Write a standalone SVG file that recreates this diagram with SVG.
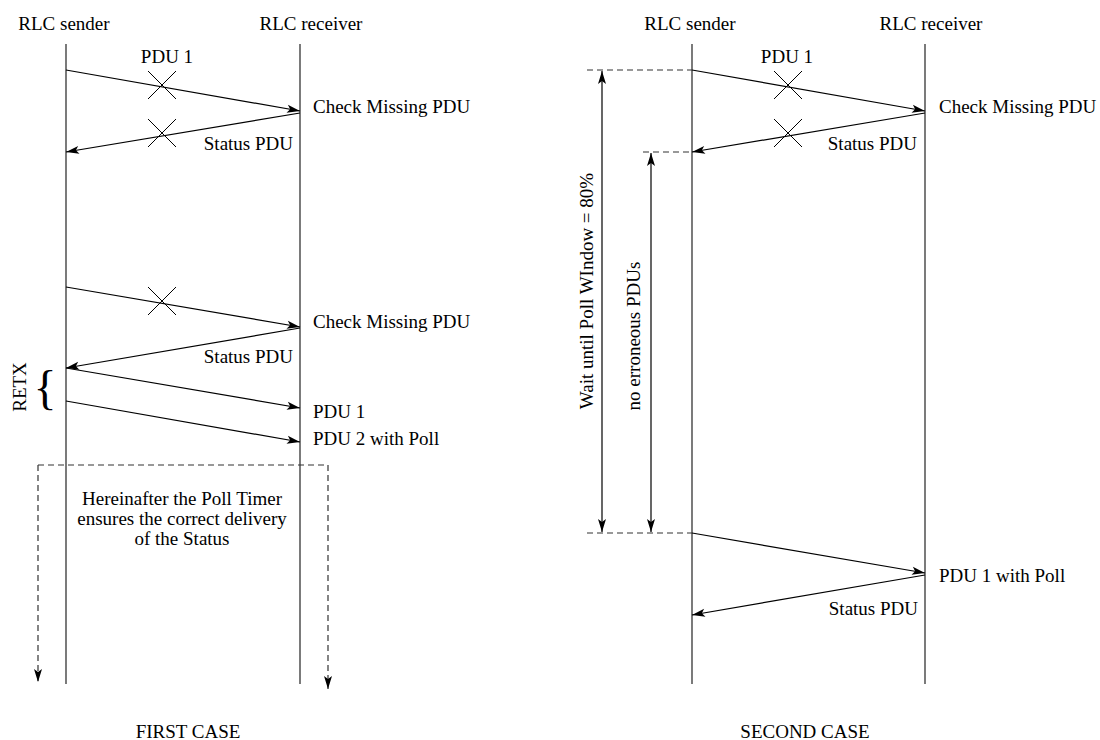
<svg xmlns="http://www.w3.org/2000/svg" width="1100" height="740" viewBox="0 0 1100 740">
  <defs>
    <marker id="ah" markerUnits="userSpaceOnUse" markerWidth="16" markerHeight="10" refX="14" refY="5" orient="auto-start-reverse" viewBox="0 0 16 10">
      <path d="M14,5 L1,1 L4,5 L1,9 Z" fill="#000"/>
    </marker>
    <style>
      text { font-family: "Liberation Serif", "Times New Roman", serif; font-size: 19px; fill: #000; }
      .mid { text-anchor: middle; }
      .end { text-anchor: end; }
      .life { stroke: #333; stroke-width: 1.3; fill: none; }
      .msg { stroke: #000; stroke-width: 1.2; fill: none; marker-end: url(#ah); }
      .both { stroke: #000; stroke-width: 1.2; fill: none; marker-start: url(#ah); marker-end: url(#ah); }
      .dash { stroke: #333; stroke-width: 1.2; fill: none; stroke-dasharray: 6 4; }
      .dasharr { stroke: #333; stroke-width: 1.2; fill: none; stroke-dasharray: 6 4; marker-end: url(#ah); }
      .cross { stroke: #000; stroke-width: 1; fill: none; }
    </style>
  </defs>
  <rect width="1100" height="740" fill="#fff"/>

  <!-- first case: participants -->
  <g id="sender1">
    <text class="mid" x="64" y="30">RLC sender</text>
    <line class="life" x1="66" y1="44" x2="66" y2="684"/>
  </g>
  <g id="receiver1">
    <text class="mid" x="311" y="30">RLC receiver</text>
    <line class="life" x1="300" y1="44" x2="300" y2="684"/>
  </g>

  <!-- second case: participants -->
  <g id="sender2">
    <text class="mid" x="690" y="30">RLC sender</text>
    <line class="life" x1="692" y1="44" x2="692" y2="684"/>
  </g>
  <g id="receiver2">
    <text class="mid" x="931" y="30">RLC receiver</text>
    <line class="life" x1="925" y1="44" x2="925" y2="684"/>
  </g>

  <g id="connectors">
    <!-- first case messages -->
    <line class="msg" x1="66" y1="70" x2="300" y2="111"/>
    <line class="msg" x1="300" y1="113" x2="66" y2="152"/>
    <line class="msg" x1="66" y1="287" x2="300" y2="327"/>
    <line class="msg" x1="300" y1="328" x2="66" y2="368"/>
    <line class="msg" x1="66" y1="368" x2="300" y2="408"/>
    <line class="msg" x1="66" y1="401" x2="300" y2="442"/>
    <!-- poll timer region -->
    <polyline class="dash" points="38,465 328,465"/>
    <line class="dasharr" x1="38" y1="465" x2="38" y2="682"/>
    <line class="dasharr" x1="328" y1="465" x2="328" y2="689"/>

    <!-- second case messages -->
    <line class="msg" x1="692" y1="70" x2="925" y2="111"/>
    <line class="msg" x1="925" y1="113" x2="692" y2="152"/>
    <line class="msg" x1="692" y1="533" x2="925" y2="573"/>
    <line class="msg" x1="925" y1="575" x2="692" y2="615"/>
    <!-- guide lines and spans -->
    <line class="dash" x1="587" y1="70" x2="692" y2="70"/>
    <line class="dash" x1="643" y1="152" x2="692" y2="152"/>
    <line class="dash" x1="587" y1="533" x2="692" y2="533"/>
    <line class="both" x1="602" y1="71" x2="602" y2="532"/>
    <line class="both" x1="651" y1="153" x2="651" y2="532"/>
  </g>

  <!-- lost PDUs -->
  <g id="losses">
    <path class="cross" d="M148,71 L176,99 M148,99 L176,71"/>
    <path class="cross" d="M148,119 L176,147 M148,147 L176,119"/>
    <path class="cross" d="M148,287 L176,315 M148,315 L176,287"/>
    <path class="cross" d="M774,71 L802,99 M774,99 L802,71"/>
    <path class="cross" d="M774,119 L802,147 M774,147 L802,119"/>
  </g>

  <!-- first case labels -->
  <g id="labels1">
    <text class="mid" x="167" y="63">PDU 1</text>
    <text x="313" y="113">Check Missing PDU</text>
    <text class="end" x="293" y="150">Status PDU</text>
    <text x="313" y="328">Check Missing PDU</text>
    <text class="end" x="293" y="363">Status PDU</text>
    <text x="313" y="418">PDU 1</text>
    <text x="313" y="445">PDU 2 with Poll</text>
    <text class="mid" x="182" y="505">Hereinafter the Poll Timer</text>
    <text class="mid" x="182" y="525">ensures the correct delivery</text>
    <text class="mid" x="182" y="545">of the Status</text>
    <text class="mid" x="188" y="738">FIRST CASE</text>
  </g>
  <g id="retx">
    <text class="mid" x="45" y="404" style="font-size:48px">{</text>
    <text class="mid" transform="translate(26,387) rotate(-90)">RETX</text>
  </g>

  <!-- second case labels -->
  <g id="labels2">
    <text class="mid" x="787" y="63">PDU 1</text>
    <text x="939" y="113">Check Missing PDU</text>
    <text class="end" x="917" y="150">Status PDU</text>
    <text class="mid" transform="translate(593,291) rotate(-90)">Wait until Poll WIndow = 80%</text>
    <text class="mid" transform="translate(640,336) rotate(-90)">no erroneous PDUs</text>
    <text x="939" y="582">PDU 1 with Poll</text>
    <text class="end" x="918" y="615">Status PDU</text>
    <text class="mid" x="805" y="738">SECOND CASE</text>
  </g>
</svg>
